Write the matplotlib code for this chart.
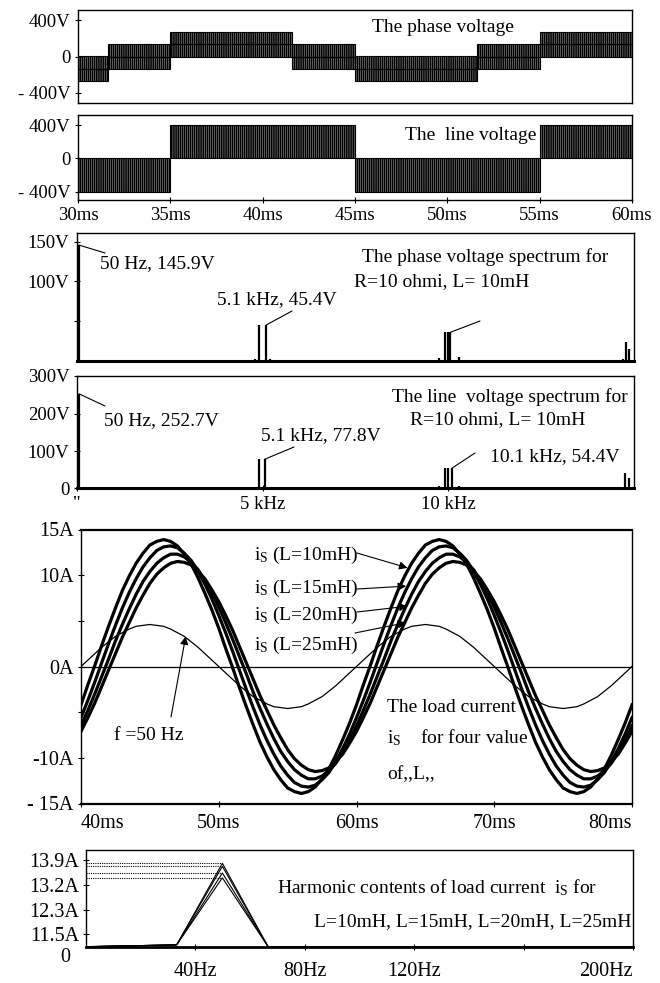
import matplotlib
matplotlib.use("Agg")
import matplotlib.pyplot as plt
from matplotlib.patches import Rectangle

# ---------------- data ----------------
# phase voltage PWM segments (ms, V)
phase_seg_start = [30.0, 31.6, 35.0, 41.6, 45.0, 51.6, 55.0]
phase_seg_end = [31.6, 35.0, 41.6, 45.0, 51.6, 55.0, 60.0]
phase_seg_low = [-267, -133, 0, -133, -267, -133, 0]
phase_seg_mid = [-133, 0, 133, 0, -133, 0, 133]
phase_seg_high = [0, 133, 267, 133, 0, 133, 267]

# line voltage PWM segments (ms, V)
line_seg_start = [30.0, 35.0, 45.0, 55.0]
line_seg_end = [35.0, 45.0, 55.0, 60.0]
line_seg_low = [-400, 0, -400, 0]
line_seg_high = [0, 400, 0, 400]

time_ticks = [30, 35, 40, 45, 50, 55, 60]
time_ticklabels = ["30ms", "35ms", "40ms", "45ms", "50ms", "55ms", "60ms"]
volt_ticks = [400, 0, -400]
volt_ticklabels = ["400V", "0", "- 400V"]

# phase voltage spectrum (kHz, V)
phase_spec_freq = [0.05, 4.8, 4.9, 5.1, 5.2, 9.75, 9.9, 9.98, 10.05, 10.3, 14.7, 14.78, 14.86]
phase_spec_amp = [145.9, 3.0, 45.4, 45.4, 3.0, 4.0, 36.0, 36.0, 36.0, 5.0, 2.0, 24.0, 15.5]

# line voltage spectrum (kHz, V)
line_spec_freq = [0.05, 4.8, 4.9, 5.05, 5.2, 9.75, 9.9, 10.0, 10.1, 10.3, 14.7, 14.75, 14.86]
line_spec_amp = [252.7, 4.0, 77.8, 77.8, 4.0, 6.0, 54.4, 54.4, 54.4, 6.0, 3.0, 40.0, 27.0]

spec_ticks = [0, 5, 10]
spec_ticklabels = ['"', "5 kHz", "10 kHz"]
phase_spec_yticks = [150, 100, 50]
phase_spec_yticklabels = ["150V", "100V", ""]
line_spec_yticks = [300, 200, 100, 0]
line_spec_yticklabels = ["300V", "200V", "100V", "0"]

# load current (ms, A), read every 0.5 ms
cur_time = [40 + 0.5 * k for k in range(81)]
cur_L10 = [-4.2, -2.0, 0.1, 2.3, 4.4, 6.4, 8.3, 9.9, 11.3, 12.4, 13.3, 13.7, 13.9, 13.7,
           13.2, 12.3, 11.2, 9.7, 8.0, 6.2, 4.2, 2.0, -0.1, -2.3, -4.4, -6.4, -8.3, -9.9,
           -11.3, -12.4, -13.3, -13.7, -13.9, -13.7, -13.2, -12.3, -11.2, -9.7, -8.0, -6.2,
           -4.2, -2.0, 0.1, 2.3, 4.4, 6.4, 8.3, 9.9, 11.3, 12.4, 13.3, 13.7, 13.9, 13.7,
           13.2, 12.3, 11.2, 9.7, 8.0, 6.2, 4.2, 2.0, -0.1, -2.3, -4.4, -6.4, -8.3, -9.9,
           -11.3, -12.4, -13.3, -13.7, -13.9, -13.7, -13.2, -12.3, -11.2, -9.7, -8.0, -6.2,
           -4.2]
cur_L15 = [-5.6, -3.7, -1.7, 0.4, 2.5, 4.5, 6.4, 8.1, 9.6, 10.9, 11.9, 12.7, 13.1, 13.2,
           13.0, 12.4, 11.6, 10.4, 9.0, 7.4, 5.6, 3.7, 1.7, -0.4, -2.5, -4.5, -6.4, -8.1,
           -9.6, -10.9, -11.9, -12.7, -13.1, -13.2, -13.0, -12.4, -11.6, -10.4, -9.0, -7.4,
           -5.6, -3.7, -1.7, 0.4, 2.5, 4.5, 6.4, 8.1, 9.6, 10.9, 11.9, 12.7, 13.1, 13.2,
           13.0, 12.4, 11.6, 10.4, 9.0, 7.4, 5.6, 3.7, 1.7, -0.4, -2.5, -4.5, -6.4, -8.1,
           -9.6, -10.9, -11.9, -12.7, -13.1, -13.2, -13.0, -12.4, -11.6, -10.4, -9.0, -7.4,
           -5.6]
cur_L20 = [-6.5, -4.8, -3.0, -1.1, 0.8, 2.8, 4.6, 6.3, 7.9, 9.3, 10.4, 11.3, 11.9, 12.3,
           12.3, 12.0, 11.4, 10.6, 9.4, 8.1, 6.5, 4.8, 3.0, 1.1, -0.8, -2.8, -4.6, -6.3,
           -7.9, -9.3, -10.4, -11.3, -11.9, -12.3, -12.3, -12.0, -11.4, -10.6, -9.4, -8.1,
           -6.5, -4.8, -3.0, -1.1, 0.8, 2.8, 4.6, 6.3, 7.9, 9.3, 10.4, 11.3, 11.9, 12.3,
           12.3, 12.0, 11.4, 10.6, 9.4, 8.1, 6.5, 4.8, 3.0, 1.1, -0.8, -2.8, -4.6, -6.3,
           -7.9, -9.3, -10.4, -11.3, -11.9, -12.3, -12.3, -12.0, -11.4, -10.6, -9.4, -8.1,
           -6.5]
cur_L25 = [-7.1, -5.6, -4.0, -2.2, -0.4, 1.4, 3.2, 4.8, 6.4, 7.8, 9.1, 10.1, 10.8, 11.3,
           11.5, 11.4, 11.1, 10.4, 9.6, 8.4, 7.1, 5.6, 4.0, 2.2, 0.4, -1.4, -3.2, -4.8,
           -6.4, -7.8, -9.1, -10.1, -10.8, -11.3, -11.5, -11.4, -11.1, -10.4, -9.6, -8.4,
           -7.1, -5.6, -4.0, -2.2, -0.4, 1.4, 3.2, 4.8, 6.4, 7.8, 9.1, 10.1, 10.8, 11.3,
           11.5, 11.4, 11.1, 10.4, 9.6, 8.4, 7.1, 5.6, 4.0, 2.2, 0.4, -1.4, -3.2, -4.8,
           -6.4, -7.8, -9.1, -10.1, -10.8, -11.3, -11.5, -11.4, -11.1, -10.4, -9.6, -8.4,
           -7.1]
ref_50Hz = [0.0, 0.7, 1.4, 2.1, 2.7, 3.3, 3.7, 4.1, 4.4, 4.5, 4.6, 4.5, 4.4, 4.1,
            3.7, 3.3, 2.7, 2.1, 1.4, 0.7, 0.0, -0.7, -1.4, -2.1, -2.7, -3.3, -3.7, -4.1,
            -4.4, -4.5, -4.6, -4.5, -4.4, -4.1, -3.7, -3.3, -2.7, -2.1, -1.4, -0.7,
            0.0, 0.7, 1.4, 2.1, 2.7, 3.3, 3.7, 4.1, 4.4, 4.5, 4.6, 4.5, 4.4, 4.1,
            3.7, 3.3, 2.7, 2.1, 1.4, 0.7, 0.0, -0.7, -1.4, -2.1, -2.7, -3.3, -3.7, -4.1,
            -4.4, -4.5, -4.6, -4.5, -4.4, -4.1, -3.7, -3.3, -2.7, -2.1, -1.4, -0.7,
            0.0]
cur_labels = ["(L=10mH)", "(L=15mH)", "(L=20mH)", "(L=25mH)"]
cur_ticks_x = [40, 50, 60, 70, 80]
cur_ticklabels_x = ["40ms", "50ms", "60ms", "70ms", "80ms"]
cur_ticks_y = [15, 10, 5, 0, -5, -10, -15]
cur_ticklabels_y = ["15A", "10A", "", "0A", "", "-10A", "- 15A"]

# harmonic content of load current (Hz, A)
harm_freq = [0, 16.7, 33.3, 50, 66.7, 83.3, 100, 116.7, 133.3, 150, 166.7, 183.3, 200]
harm_L10 = [0.1, 0.25, 0.4, 13.9, 0.1, 0.05, 0.05, 0.05, 0.05, 0.05, 0.05, 0.05, 0.05]
harm_L15 = [0.1, 0.25, 0.4, 13.4, 0.1, 0.05, 0.05, 0.05, 0.05, 0.05, 0.05, 0.05, 0.05]
harm_L20 = [0.1, 0.25, 0.4, 12.3, 0.1, 0.05, 0.05, 0.05, 0.05, 0.05, 0.05, 0.05, 0.05]
harm_L25 = [0.1, 0.25, 0.4, 11.5, 0.1, 0.05, 0.05, 0.05, 0.05, 0.05, 0.05, 0.05, 0.05]
harm_ticks_x = [40, 80, 120, 160, 200]
harm_ticklabels_x = ["40Hz", "80Hz", "120Hz", "", "200Hz"]
harm_ticklabels_y = ["13.9A", "13.2A", "12.3A", "11.5A"]
harm_zero_label = "0"

# ---------------- style / layout ----------------
plt.rcParams["font.family"] = ["Liberation Serif", "DejaVu Serif"]
plt.rcParams["mathtext.fontset"] = "custom"
plt.rcParams["mathtext.rm"] = "Liberation Serif"
plt.rcParams["mathtext.it"] = "Liberation Serif"
plt.rcParams["hatch.linewidth"] = 1.25
plt.rcParams["axes.linewidth"] = 1.0

W, H = 660.0, 983.0
fig = plt.figure(figsize=(6.6, 9.83), dpi=100)
FS = 14
TFS = 13.5
PWM_HATCH = "||||||||"


def box(x0, y0, x1, y1):
    return [x0 / W, 1 - y1 / H, (x1 - x0) / W, (y1 - y0) / H]


def fp(x, y):
    return (x / W, 1 - y / H)


def ftext(x, y, s, ha="left", size=FS):
    fig.text(x / W, 1 - y / H, s, ha=ha, va="center", fontsize=size)


def style(ax, size=TFS):
    ax.tick_params(direction="inout", length=5, width=0.8, labelsize=size, pad=3)


# ---- panel 1: phase voltage ----
ax1 = fig.add_axes(box(78, 10, 632, 103))
ax1.set_xlim(30, 60)
ax1.set_ylim(-510, 510)
for t0, t1, lo, mid, hi in zip(phase_seg_start, phase_seg_end, phase_seg_low,
                               phase_seg_mid, phase_seg_high):
    ax1.add_patch(Rectangle((t0, lo), t1 - t0, hi - lo, facecolor="none",
                            edgecolor="black", hatch=PWM_HATCH, lw=0.8))
    ax1.plot([t0, t1], [mid, mid], color="black", lw=1.0)
ax1.set_yticks(volt_ticks, volt_ticklabels)
ax1.set_xticks(time_ticks, [""] * len(time_ticks))
style(ax1)
ax1.tick_params(axis="x", length=0)
ftext(372, 27, "The phase voltage")

# ---- panel 2: line voltage ----
ax2 = fig.add_axes(box(78, 115, 632, 199.5))
ax2.set_xlim(30, 60)
ax2.set_ylim(-492, 520)
for t0, t1, lo, hi in zip(line_seg_start, line_seg_end, line_seg_low, line_seg_high):
    ax2.add_patch(Rectangle((t0, lo), t1 - t0, hi - lo, facecolor="none",
                            edgecolor="black", hatch=PWM_HATCH, lw=0.8))
ax2.set_yticks(volt_ticks, volt_ticklabels)
ax2.set_xticks(time_ticks, time_ticklabels)
style(ax2)
ftext(405, 135, "The  line voltage")

# ---- panel 3: phase voltage spectrum ----
ax3 = fig.add_axes(box(77, 233, 634, 361))
ax3.set_xlim(0, 15)
ax3.set_ylim(0, 161)
ax3.vlines(phase_spec_freq, 0, phase_spec_amp, color="black", lw=1.6)
ax3.set_yticks(phase_spec_yticks, phase_spec_yticklabels)
ax3.set_xticks([])
ax3.spines["bottom"].set_linewidth(2.2)
style(ax3)
for idx, end in ((0, (105, 253)), (3, (292, 311)), (8, (480, 321))):
    ax3.annotate("", xy=(phase_spec_freq[idx], phase_spec_amp[idx]), xycoords="data",
                 xytext=fp(*end), textcoords="figure fraction",
                 arrowprops=dict(arrowstyle="-", lw=0.8, shrinkA=0, shrinkB=0))
ftext(100, 264, "50 Hz, 145.9V")
ftext(608, 257, "The phase voltage spectrum for", ha="right")
ftext(354, 282, "R=10 ohmi, L= 10mH")
ftext(217, 300, "5.1 kHz, 45.4V")

# ---- panel 4: line voltage spectrum ----
ax4 = fig.add_axes(box(77, 376, 634, 488.5))
ax4.set_xlim(0, 15)
ax4.set_ylim(0, 300)
ax4.vlines(line_spec_freq, 0, line_spec_amp, color="black", lw=1.6)
ax4.set_yticks(line_spec_yticks, line_spec_yticklabels)
ax4.set_xticks(spec_ticks, spec_ticklabels)
ax4.spines["bottom"].set_linewidth(2.2)
style(ax4)
for idx, end in ((0, (105, 406)), (3, (294, 447)), (8, (475, 453))):
    ax4.annotate("", xy=(line_spec_freq[idx], line_spec_amp[idx]), xycoords="data",
                 xytext=fp(*end), textcoords="figure fraction",
                 arrowprops=dict(arrowstyle="-", lw=0.8, shrinkA=0, shrinkB=0))
ftext(104, 421, "50 Hz, 252.7V")
ftext(628, 397, "The line  voltage spectrum for", ha="right")
ftext(410, 420, "R=10 ohmi, L= 10mH")
ftext(261, 436, "5.1 kHz, 77.8V")
ftext(490, 457, "10.1 kHz, 54.4V")

# ---- panel 5: load current ----
ax5 = fig.add_axes(box(81, 529.5, 632, 803.5))
ax5.set_xlim(40, 80)
ax5.set_ylim(-15, 15)
ax5.axhline(0, color="black", lw=0.9)
ax5.plot(cur_time, ref_50Hz, color="black", lw=0.9)
for series in (cur_L25, cur_L20, cur_L15, cur_L10):
    ax5.plot(cur_time, series, color="black", lw=2.3, solid_joinstyle="round")
ax5.set_xticks(cur_ticks_x, cur_ticklabels_x)
ax5.set_yticks(cur_ticks_y, cur_ticklabels_y)
for s in ("top", "bottom"):
    ax5.spines[s].set_linewidth(1.6)
style(ax5, size=14.5)
ax5.tick_params(axis="x", pad=5)
xl = ax5.get_xticklabels()
xl[0].set_ha("left")
xl[-1].set_ha("right")

label_rows = [555, 588, 615, 645]
tails = [(357, 553), (357, 589), (357, 612), (355, 633)]
tips = [(63.7, 10.8), (63.6, 8.8), (63.7, 6.6), (63.6, 4.8)]
for row, lab, tail, tip in zip(label_rows, cur_labels, tails, tips):
    ftext(254, row, r"$\mathrm{i_S}$ " + lab)
    ax5.annotate("", xy=tip, xycoords="data", xytext=fp(*tail),
                 textcoords="figure fraction",
                 arrowprops=dict(arrowstyle="-|>", lw=0.8, color="black",
                                 mutation_scale=12, shrinkA=0, shrinkB=0))
ax5.annotate("", xy=(47.6, 3.3), xycoords="data", xytext=fp(171, 717),
             textcoords="figure fraction",
             arrowprops=dict(arrowstyle="-|>", lw=0.8, color="black",
                             mutation_scale=12, shrinkA=0, shrinkB=0))
ftext(114, 735, "f =50 Hz")
ftext(387, 707, "The load current")
ftext(387, 738, r"$\mathrm{i_S}$    for four value")
ftext(387, 775, "of,,L,,")

# ---- panel 6: harmonic contents ----
ax6 = fig.add_axes(box(85.5, 850, 633, 947.3))
ax6.set_xlim(0, 200)
ax6.set_ylim(0, 16.1)
for series in (harm_L10, harm_L15, harm_L20, harm_L25):
    ax6.plot(harm_freq, series, color="black", lw=0.8)
    ax6.plot([0, harm_freq[3]], [series[3], series[3]], color="black", lw=0.8,
             linestyle=(0, (1, 1)))
ax6.set_xticks(harm_ticks_x, harm_ticklabels_x)
ax6.set_yticks([14.45, 10.3, 6.15, 2.2], harm_ticklabels_y)
ax6.spines["bottom"].set_linewidth(2.0)
style(ax6, size=14.5)
ax6.tick_params(axis="x", pad=8)
ax6.tick_params(axis="y", pad=2)
hl = ax6.get_xticklabels()
hl[-1].set_ha("right")
ftext(65, 958, harm_zero_label, ha="center", size=14.5)
ftext(277, 888, r"Harmonic contents of load current  $\mathrm{i_S}$ for")
ftext(632, 922, "L=10mH, L=15mH, L=20mH, L=25mH", ha="right")

fig.savefig("out.png", dpi=100)
